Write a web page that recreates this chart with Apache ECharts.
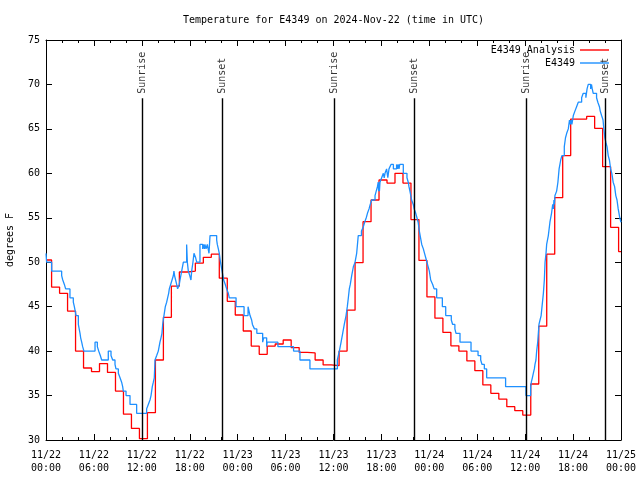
<!DOCTYPE html>
<html><head><meta charset="utf-8">
<script src="https://cdn.jsdelivr.net/npm/echarts@6/dist/echarts.min.js"></script>
<style>html,body{margin:0;padding:0;background:#fff}#c{width:640px;height:480px}</style>
</head><body><div id="c"></div>
<script>
// Hours since 2024-11-22 00:00 UTC
const xTickStep = 6;
const dayLabels = ['11/22','11/23','11/24','11/25'];

// Hourly analysis values (each changes about 18 min before the hour)
const redValues = [50.25,47.2,46.5,44.5,40.0,38.1,37.7,38.6,37.6,35.5,
  32.9,31.3,30.15,33.07,39.0,43.8,47.3,48.9,49.0,49.9,
  50.55,50.9,48.2,45.6,44.06,42.26,40.57,39.64,40.57,40.8,
  41.25,40.4,39.85,39.8,39.0,38.45,38.36,40.0,44.6,49.95,
  54.56,57.0,59.25,58.9,60.0,58.9,54.8,50.2,46.1,43.7,
  42.1,40.6,40.0,38.9,37.8,36.2,35.25,34.6,33.75,33.3,
  32.8,36.3,42.8,50.9,57.26,62.0,66.1,66.1,66.4,65.06,
  60.75,53.93,51.2];

// Observations [hour, degF]
const blueObs = [[0,51],[0.08,50],[0.71,49],[1.96,48.5],[2.1,48],[2.3,47.5],[2.46,47],[3.0,46],[3.42,45.5],[3.55,45],[3.76,44],[4.05,43],[4.26,42],[4.34,41.5],[4.47,41],[4.59,40.5],[4.75,40],[6.14,41],[6.43,40.5],[6.6,40],[6.8,39.5],[6.97,39],[7.8,40],[8.14,39.5],[8.35,39],[8.64,38.5],[8.76,38],[9.06,37.5],[9.27,37],[9.47,36.5],[9.6,36],[9.68,35.5],[10.02,35],[10.52,34],[11.35,33],[12.6,33.5],[12.81,34],[13.02,34.5],[13.15,35],[13.31,36],[13.44,36.5],[13.56,37],[13.65,39],[13.86,39.5],[14.06,40],[14.27,41],[14.4,41.5],[14.52,42],[14.61,43],[14.77,44],[14.94,45],[15.11,45.5],[15.23,46],[15.36,46.5],[15.44,47],[15.61,47.5],[15.78,48],[15.95,48.5],[16.02,49],[16.1,48.5],[16.23,48],[16.36,47.5],[16.48,47],[16.69,47.5],[16.78,48],[16.99,49],[17.2,50],[17.61,52],[17.7,50],[17.82,49],[18.0,48.5],[18.15,48],[18.24,49],[18.4,50],[18.53,51],[18.74,50.5],[18.87,50],[19.28,52],[19.62,51.5],[19.7,52],[19.83,51.5],[19.9,52],[20.04,51.5],[20.2,52],[20.41,51],[20.54,53],[21.37,52.5],[21.45,52],[21.58,51.5],[21.7,51],[21.85,50],[22.05,49],[22.25,48],[22.45,47.5],[22.62,47],[22.83,46.5],[22.95,46],[23.8,45],
[24.8,44],[25.3,45],[25.55,44],[25.75,43.5],[25.85,43],[26.1,42.5],[26.4,42],[27.13,41],[27.26,41.5],[27.63,40.5],[27.7,41],[29.04,40.5],[31.0,40],[31.8,39],[33.05,38],[36.48,39],[36.73,40],[36.95,41],[37.15,42],[37.35,43],[37.57,44],[37.73,45],[37.86,46],[37.98,47],[38.1,47.5],[38.28,48.5],[38.49,49.5],[38.7,50],[38.9,51],[39.0,52],[39.1,53],[39.5,53.5],[39.74,54],[39.9,54.5],[40.1,55],[40.25,55.5],[40.45,56],[40.6,56.5],[40.78,57],[41.2,57.5],[41.35,58],[41.5,58.5],[41.6,59],[41.65,58],[41.7,59],[41.75,58],[41.82,59],[42.03,59.5],[42.24,60],[42.35,59.5],[42.45,60],[42.65,60.5],[42.8,59.5],[42.95,60.5],[43.2,61],[43.5,60.5],[43.9,61],[44.0,60.5],[44.1,61],[44.2,60.5],[44.3,61],[44.74,60],[45.2,59.5],[45.36,59],[45.45,58.5],[45.57,58],[45.78,57],[45.99,56.5],[46.1,56],[46.3,55.5],[46.45,55],[46.6,54.5],[46.75,53.5],[46.85,53],[47.05,52],[47.25,51.5],[47.4,51],[47.55,50.5],[47.7,50],[47.85,49.5],[48.0,49],[48.17,48],[48.42,47.5],[48.6,47],[48.92,46],[49.63,45],[50.05,44],[50.75,43.5],[50.92,43],[51.2,42.5],[51.34,42],[51.84,41],[53.22,40],[54.1,39.5],[54.43,39],[54.6,38.5],[54.89,38],[55.18,37],[57.55,36],[60.1,35],
[60.69,36],[60.77,36.5],[60.9,37],[61.02,37.5],[61.15,38],[61.23,38.5],[61.35,39],[61.44,40],[61.57,41],[61.65,42],[61.73,43],[61.86,43.5],[62.0,44],[62.11,45],[62.28,46.5],[62.4,48],[62.49,50],[62.61,51],[62.69,52],[62.9,53],[63.1,54.5],[63.3,55.5],[63.45,56.5],[63.55,56],[63.6,57],[63.65,56.5],[63.73,57.5],[63.94,58],[64.1,59],[64.25,60.5],[64.45,61.5],[64.6,62],[64.9,63],[65.05,64],[65.2,64.5],[65.4,65],[65.55,66],[65.65,65.5],[65.75,66],[65.85,65.5],[66.03,66.5],[66.23,67],[66.44,67.5],[66.65,68],[67.07,68.5],[67.27,69],[67.6,68.5],[67.75,69.5],[67.9,70],[68.2,69.5],[68.3,70],[68.4,69.5],[68.52,69],[68.94,68.5],[69.1,68],[69.3,67.5],[69.4,67],[69.57,66.5],[69.75,66],[69.85,65],[69.98,64],[70.1,63.5],[70.25,63],[70.4,62],[70.55,61.5],[70.7,60.5],[70.85,60],[71.02,59],[71.2,58.5],[71.35,57.5],[71.5,57],[71.65,56],[71.85,55],[72.0,54.5]];

const eventHours = [12.02, 22.04, 36.06, 46.08, 60.1, 70.0];
const eventNames = ['Sunrise','Sunset','Sunrise','Sunset','Sunrise','Sunset'];
const eventLineTop = 68.45;
const eventLabelAt = 68.95;

const FONT = "'DejaVu Sans Mono', monospace";

const redData = redValues.map((v, i) => [i === 0 ? 0 : i - 0.3, v]);
redData.push([72, redValues[redValues.length - 1]]);

function fmtX(h) {
  const d = Math.floor(h / 24);
  const hh = Math.round(h - d * 24);
  return dayLabels[d] + '\n' + (hh < 10 ? '0' : '') + hh + ':00';
}

const txt = {fontFamily: FONT, fontSize: 10, color: '#000'};
const axLine = {show: true, onZero: false, lineStyle: {color: '#000', width: 1}};

const chart = echarts.init(document.getElementById('c'));
chart.setOption({
  animation: false,
  backgroundColor: '#fff',
  title: {text: 'Temperature for E4349 on 2024-Nov-22 (time in UTC)', left: 183, top: 15, padding: 0,
    textStyle: Object.assign({fontWeight: 'normal'}, txt)},
  legend: [
    {data: ['E4349 Analysis'], right: 31, top: 45, padding: 0, align: 'right', icon: 'rect',
      itemWidth: 29, itemHeight: 1.4, textStyle: txt},
    {data: ['E4349'], right: 31, top: 58, padding: 0, align: 'right', icon: 'rect',
      itemWidth: 29, itemHeight: 1.4, textStyle: txt}
  ],
  grid: {left: 46, right: 19, top: 40, bottom: 40, containLabel: false, outerBoundsMode: 'none'},
  xAxis: [
    {type: 'value', min: 0, max: 72, interval: xTickStep, axisLine: axLine,
      axisTick: {show: true, inside: true, length: 6, lineStyle: {color: '#000'}},
      minorTick: {show: true, splitNumber: 3, length: 3, lineStyle: {color: '#000'}},
      splitLine: {show: false}, minorSplitLine: {show: false},
      axisLabel: Object.assign({formatter: fmtX, lineHeight: 13, margin: 9, showMinLabel: true, showMaxLabel: true}, txt)},
    {type: 'value', position: 'top', min: 0, max: 72, interval: xTickStep, axisLine: axLine,
      axisTick: {show: true, inside: true, length: 6, lineStyle: {color: '#000'}},
      minorTick: {show: true, splitNumber: 3, length: 3, lineStyle: {color: '#000'}},
      splitLine: {show: false}, axisLabel: {show: false}}
  ],
  yAxis: [
    {type: 'value', min: 30, max: 75, interval: 5, axisLine: axLine,
      axisTick: {show: true, inside: true, length: 6, lineStyle: {color: '#000'}},
      splitLine: {show: false},
      axisLabel: Object.assign({margin: 6}, txt),
      name: 'degrees F', nameLocation: 'middle', nameGap: 31, nameRotate: 90, nameTextStyle: txt},
    {type: 'value', position: 'right', min: 30, max: 75, interval: 5, axisLine: axLine,
      axisTick: {show: true, inside: true, length: 6, lineStyle: {color: '#000'}},
      splitLine: {show: false}, axisLabel: {show: false}}
  ],
  series: [
    {name: 'E4349 Analysis', type: 'line', step: 'end', data: redData, showSymbol: false,
      symbol: 'none', lineStyle: {color: '#ff0000', width: 1.3}, itemStyle: {color: '#ff0000'}, z: 3},
    {name: 'E4349', type: 'line', step: 'end', data: blueObs, showSymbol: false,
      symbol: 'none', lineStyle: {color: '#1e90ff', width: 1.3}, itemStyle: {color: '#1e90ff'}, z: 4},
    {name: 'sun', type: 'line', data: [], silent: true,
      markLine: {silent: true, symbol: ['none', 'none'], animation: false,
        lineStyle: {color: '#000', width: 1.4, type: 'solid'}, label: {show: false},
        data: eventHours.map(t => [{coord: [t, 30]}, {coord: [t, eventLineTop]}])}},
    {name: 'sunlabels', type: 'scatter', symbolSize: 0, silent: true,
      data: eventHours.map((t, i) => [t, eventLabelAt, eventNames[i]]),
      label: Object.assign({show: true, position: 'inside', rotate: 90, align: 'left', verticalAlign: 'middle',
        formatter: p => p.value[2]}, txt)}
  ]
});
</script></body></html>
